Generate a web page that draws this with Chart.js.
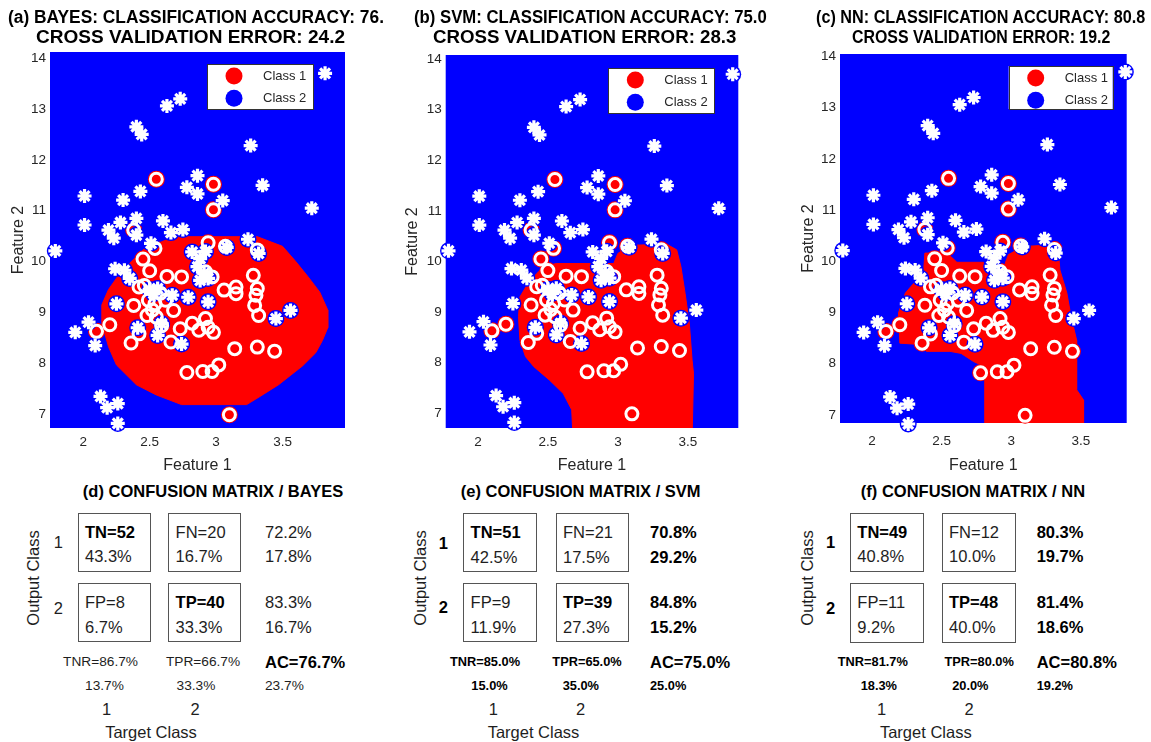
<!DOCTYPE html>
<html><head><meta charset="utf-8">
<script src="https://cdn.jsdelivr.net/npm/chart.js@4.4.0/dist/chart.umd.min.js"></script>
<style>
html,body{margin:0;padding:0;background:#fff;}
body{width:1151px;height:742px;position:relative;overflow:hidden;font-family:"Liberation Sans",Arial,Helvetica,sans-serif;color:#1e1e1e;}
.cv{position:absolute;top:0;}
.t{position:absolute;white-space:nowrap;line-height:1;}
.box{position:absolute;border:1px solid #555;box-sizing:border-box;}
</style></head><body>
<canvas id="ca" class="cv" style="left:0px" width="390" height="480"></canvas>
<canvas id="cb" class="cv" style="left:390px" width="380" height="480"></canvas>
<canvas id="cc" class="cv" style="left:770px" width="381" height="480"></canvas>
<script>
// ---------- data ----------
const legendLabels = ['Class 1', 'Class 2'];
const xTicks = [2, 2.5, 3, 3.5];
const yTicks = [7, 8, 9, 10, 11, 12, 13, 14];

const class1Points = [
 [2.55,11.62],[2.98,11.52],[2.98,11.02],[2.38,10.62],[2.54,10.26],[2.94,10.37],[3.07,10.30],[3.31,10.23],
 [2.45,10.05],[2.50,9.82],[2.63,9.71],[2.74,9.70],[2.42,9.50],[2.46,9.53],[2.38,9.14],[2.49,9.24],
 [2.54,9.17],[2.62,9.24],[2.68,9.04],[2.48,8.94],[2.55,8.91],[2.59,8.74],[2.73,8.68],[2.82,8.79],
 [2.87,8.65],[2.92,8.88],[2.94,8.71],[2.98,8.61],[2.66,8.42],[2.36,8.40],[2.42,8.58],[2.20,8.76],
 [2.10,8.63],[2.92,9.80],[2.97,9.70],[3.06,9.44],[3.15,9.50],[3.15,9.37],[3.28,9.73],[3.31,9.47],
 [3.30,9.34],[3.29,9.14],[3.32,8.94],[3.14,8.29],[3.31,8.32],[3.44,8.24],[2.78,7.82],[2.90,7.84],
 [2.97,7.84],[3.02,7.97],[3.10,6.99],[2.52,9.05],[2.58,9.38]
];
const class2Points = [
 [3.82,13.70],[2.73,13.20],[2.63,13.06],[2.40,12.65],[2.44,12.50],[3.26,12.28],[2.86,11.69],[2.78,11.46],
 [2.86,11.33],[3.35,11.50],[2.01,11.29],[2.43,11.38],[2.30,11.21],[3.05,11.20],[3.72,11.05],[2.01,10.72],
 [2.28,10.77],[2.40,10.85],[2.60,10.80],[2.19,10.62],[2.23,10.46],[2.66,10.57],[2.75,10.63],[2.40,10.52],
 [2.51,10.36],[2.82,10.19],[3.24,10.44],[3.08,10.28],[3.32,10.16],[1.79,10.21],[2.88,10.06],[2.92,10.20],
 [2.86,9.90],[2.91,9.77],[2.94,9.67],[2.88,9.63],[2.24,9.86],[2.31,9.83],[2.35,9.67],[2.56,9.47],
 [2.53,9.37],[2.50,9.45],[2.67,9.34],[2.79,9.30],[2.94,9.21],[2.25,9.17],[3.56,9.04],[3.45,8.88],
 [2.04,8.81],[1.94,8.61],[2.09,8.35],[2.41,8.70],[2.56,8.55],[2.59,8.78],[2.74,8.38],[2.13,7.35],
 [2.18,7.13],[2.26,7.21],[2.26,6.82]
];

// decision regions (class 1 area)
const bayesRegion = [[2.69,10.49],[3.31,10.49],[3.50,10.30],[3.60,10.0],[3.69,9.71],[3.78,9.40],[3.84,9.05],[3.84,8.70],
 [3.80,8.45],[3.75,8.21],[3.65,7.95],[3.47,7.58],[3.33,7.35],[3.23,7.19],[2.74,7.19],[2.55,7.38],[2.40,7.58],
 [2.25,7.97],[2.19,8.33],[2.14,8.80],[2.14,9.15],[2.19,9.45],[2.26,9.71],[2.35,9.97],[2.45,10.23],[2.59,10.39],[2.69,10.49]];
const svmRegion = [[2.56,9.96],[2.97,9.96],[3.00,10.16],[3.09,10.32],[3.35,10.34],[3.42,10.23],[3.45,9.90],[3.48,9.37],
 [3.51,8.78],[3.53,8.05],[3.54,7.79],[3.53,6.5],[2.68,6.5],[2.67,7.07],[2.61,7.39],[2.51,7.66],[2.40,7.92],[2.34,8.12],
 [2.30,8.45],[2.29,8.91],[2.30,9.30],[2.35,9.53],[2.42,9.76],[2.47,9.90],[2.56,9.96]];
const nnRegion = [[2.38,10.16],[2.54,10.16],[2.61,9.98],[2.80,9.98],[2.85,9.83],[2.94,9.83],[2.98,10.13],[3.09,10.29],
 [3.30,10.32],[3.34,10.16],[3.35,9.83],[3.40,9.38],[3.43,8.92],[3.47,8.46],[3.47,7.49],[3.52,7.29],[3.52,6.6],
 [2.81,6.6],[2.81,7.94],[2.73,8.04],[2.64,8.20],[2.56,8.24],[2.39,8.24],[2.37,8.37],[2.20,8.40],[2.19,8.99],
 [2.24,9.38],[2.30,9.57],[2.37,9.77],[2.38,10.16]];

// confusion matrices
const bayesCounts = [52, 20, 8, 40];
const bayesCellPct = [43.3, 16.7, 6.7, 33.3];
const bayesRowPct = [72.2, 17.8, 83.3, 16.7];
const bayesColPct = [86.7, 13.7, 66.7, 33.3];
const bayesAcc = [76.7, 23.7];
const svmCounts = [51, 21, 9, 39];
const svmCellPct = [42.5, 17.5, 11.9, 27.3];
const svmRowPct = [70.8, 29.2, 84.8, 15.2];
const svmColPct = [85.0, 15.0, 65.0, 35.0];
const svmAcc = [75.0, 25.0];
const nnCounts = [49, 12, 11, 48];
const nnCellPct = [40.8, 10.0, 9.2, 40.0];
const nnRowPct = [80.3, 19.7, 81.4, 18.6];
const nnColPct = [81.7, 18.3, 80.0, 20.0];
const nnAcc = [80.8, 19.2];

// ---------- drawing ----------
const RED = '#ff0000', BLUE = '#0000ff', AX = '#262626';
const FONT = '"Liberation Sans", Arial, Helvetica, sans-serif';

const bgPlugin = {
  id: 'bgFill',
  beforeDatasetsDraw(chart, args, o) {
    const {ctx, chartArea: a} = chart;
    ctx.save(); ctx.fillStyle = o.color;
    ctx.fillRect(a.left, a.top, a.right - a.left, a.bottom - a.top);
    ctx.restore();
  }
};
const boxLegend = {
  id: 'boxLegend',
  afterDraw(chart, args, o) {
    const {ctx, chartArea: a} = chart;
    const x = a.right - o.right - o.w, y = a.top + o.top;
    ctx.save();
    ctx.fillStyle = '#fff'; ctx.fillRect(x, y, o.w, o.h);
    ctx.strokeStyle = '#333'; ctx.lineWidth = 1; ctx.strokeRect(Math.round(x) + .5, Math.round(y) + .5, o.w, o.h);
    o.items.forEach((it, i) => {
      const cy = y + 12 + i * 22.3;
      ctx.beginPath(); ctx.arc(x + 27, cy, 8.5, 0, Math.PI * 2); ctx.fillStyle = it.color; ctx.fill();
      ctx.fillStyle = AX; ctx.font = '13px ' + FONT; ctx.textBaseline = 'middle';
      ctx.fillText(it.text, x + 56, cy);
    });
    ctx.restore();
  }
};

const toXY = arr => arr.map(p => ({x: p[0], y: p[1]}));

function makeChart(id, region, c) {
  new Chart(document.getElementById(id), {
    type: 'scatter',
    data: { datasets: [
      {type: 'line', label: 'region', data: toXY(region), fill: 'shape', tension: 0, backgroundColor: RED,
       borderColor: RED, borderWidth: 1, pointRadius: 0, order: 6},
      {label: legendLabels[1], data: toXY(class2Points), pointStyle: 'circle', pointRadius: 8.5,
       pointBackgroundColor: BLUE, pointBorderWidth: 0, clip: false, order: 4},
      {label: legendLabels[0], data: toXY(class1Points), pointStyle: 'circle', pointRadius: 8.5,
       pointBackgroundColor: RED, pointBorderWidth: 0, clip: false, order: 5},
      {label: 'ring', data: toXY(class1Points), pointStyle: 'circle', pointRadius: 6,
       pointBackgroundColor: 'rgba(0,0,0,0)', pointBorderColor: '#fff', pointBorderWidth: 3, clip: false, order: 3},
      {label: 'star', data: toXY(class2Points), pointStyle: 'star', pointRadius: 7,
       pointBorderColor: '#fff', pointBackgroundColor: '#fff', pointBorderWidth: 3.2, clip: false, order: 2}
    ]},
    options: {
      responsive: false, animation: false, events: [],
      layout: {padding: {top: c.top, right: c.right, left: 0, bottom: 0}},
      plugins: {
        legend: {display: false}, tooltip: {enabled: false},
        bgFill: {color: BLUE},
        boxLegend: {right: c.lr, top: c.lt, w: c.lw, h: c.lh,
          items: [{text: legendLabels[0], color: RED}, {text: legendLabels[1], color: BLUE}]}
      },
      scales: {
        x: {type: 'linear', min: c.xmin, max: c.xmax,
          afterFit(s) { s.height = c.xh; },
          afterBuildTicks(s) { s.ticks = xTicks.map(v => ({value: v})); },
          grid: {display: false, drawTicks: false}, border: {display: false},
          ticks: {padding: c.xpad, color: AX, font: {size: 13.5, family: FONT}, callback: v => String(v), autoSkip: false, maxRotation: 0},
          title: {display: true, text: 'Feature 1', color: AX, font: {size: 16, family: FONT}, padding: {top: 0, bottom: 5}}
        },
        y: {type: 'linear', min: c.ymin, max: c.ymax,
          afterFit(s) { s.width = c.yw; },
          afterBuildTicks(s) { s.ticks = yTicks.map(v => ({value: v})); },
          grid: {display: false, drawTicks: false}, border: {display: false},
          ticks: {padding: 4, color: AX, font: {size: 13.5, family: FONT}, callback: v => String(v), autoSkip: false},
          title: {display: true, text: 'Feature 2', color: AX, font: {size: 16, family: FONT}, padding: {top: c.ytp, bottom: 0}}
        }
      }
    },
    plugins: [bgPlugin, boxLegend]
  });
}

makeChart('ca', bayesRegion, {top: 52, right: 45, yw: 50, xh: 52, xpad: 6, ytp: 9,
  xmin: 1.75, xmax: 3.97, ymin: 6.73, ymax: 14.12, lr: 32, lt: 12, lw: 106, lh: 45});
makeChart('cb', svmRegion, {top: 55, right: 31.7, yw: 55.7, xh: 52, xpad: 6, ytp: 13.4,
  xmin: 1.77, xmax: 3.86, ymin: 6.71, ymax: 14.08, lr: 24, lt: 13, lw: 106, lh: 45});
makeChart('cc', nnRegion, {top: 54, right: 24.3, yw: 70, xh: 57, xpad: 10, ytp: 29.4,
  xmin: 1.77, xmax: 3.83, ymin: 6.84, ymax: 14.05, lr: 14, lt: 12, lw: 104, lh: 43});

// ---------- text ----------
function txt(x, y, s, o = {}) {
  const d = document.createElement('div');
  d.className = 't'; d.textContent = s;
  d.style.left = x + 'px'; d.style.top = y + 'px';
  d.style.fontSize = (o.size || 16.5) + 'px';
  d.style.fontWeight = o.bold ? 'bold' : 'normal';
  d.style.color = o.bold ? '#000' : '#1e1e1e';
  const tx = o.center ? '-50%' : '0';
  d.style.transform = `translate(${tx},-50%)` + (o.rot ? ' rotate(-90deg)' : '');
  document.body.appendChild(d);
  return d;
}
// text stretched to span [x0, x1]
function fitTxt(x0, x1, y, s, size) {
  const d = txt(x0, y, s, {bold: true, size: size});
  d.style.transformOrigin = '0 50%';
  const w = d.getBoundingClientRect().width;
  d.style.transform = `translate(0,-50%) scaleX(${(x1 - x0) / w})`;
}
function box(x, y, w, h) {
  const d = document.createElement('div'); d.className = 'box';
  d.style.left = x + 'px'; d.style.top = y + 'px'; d.style.width = w + 'px'; d.style.height = h + 'px';
  document.body.appendChild(d);
}

// plot titles
const titles = [
  ['(a) BAYES: CLASSIFICATION ACCURACY: 76.', 'CROSS VALIDATION ERROR: 24.2', [8, 384], [36, 345]],
  ['(b) SVM: CLASSIFICATION ACCURACY: 75.0', 'CROSS VALIDATION ERROR: 28.3', [414, 766.7], [433.3, 736.7]],
  ['(c) NN: CLASSIFICATION ACCURACY: 80.8', 'CROSS VALIDATION ERROR: 19.2', [815.7, 1145], [851.7, 1110]]
];
titles.forEach(t => {
  fitTxt(t[2][0], t[2][1], 18, t[0], 17.5);
  fitTxt(t[3][0], t[3][1], 37.5, t[1], 17.5);
});

const f1 = v => v.toFixed(1) + '%';
function confusion(title, counts, cellPct, rowPct, colPct, acc, L) {
  txt(L.tx, 491, title, {bold: true, center: true});
  const names = ['TN', 'FN', 'FP', 'TP'];
  for (let r = 0; r < 2; r++) {
    for (let c = 0; c < 2; c++) {
      const i = r * 2 + c, bx = L.bx[c], by = L.by[r];
      box(bx, by, L.bw, L.bh);
      txt(bx + 7.3, by + 19, names[i] + '=' + counts[i], {bold: i === 0 || i === 3});
      txt(bx + 7.3, by + 43.3, f1(cellPct[i]));
    }
    txt(L.rc, L.by[r] + 19, f1(rowPct[r * 2]), {bold: L.sb});
    txt(L.rc, L.by[r] + 43.3, f1(rowPct[r * 2 + 1]), {bold: L.sb});
  }
  txt(L.rl, L.rly[0], '1', {bold: L.sb, center: true});
  txt(L.rl, L.rly[1], '2', {bold: L.sb, center: true});
  txt(L.oc, 578, 'Output Class', {center: true, rot: true});
  const sm = L.sb ? 12.8 : 13.7;
  txt(L.b1[0], 661.7, 'TNR=' + f1(colPct[0]), {size: sm, bold: L.sb, center: true});
  txt(L.b1[1], 661.7, 'TPR=' + f1(colPct[2]), {size: sm, bold: L.sb, center: true});
  txt(L.rc, 661.7, 'AC=' + f1(acc[0]), {bold: true, size: 16.5});
  txt(L.b2[0], 686, f1(colPct[1]), {size: sm, bold: L.sb, center: true});
  txt(L.b2[1], 686, f1(colPct[3]), {size: sm, bold: L.sb, center: true});
  txt(L.rc, 686, f1(acc[1]), {size: sm, bold: L.sb});
  txt(L.cn[0], 709, '1', {center: true});
  txt(L.cn[1], 709, '2', {center: true});
  txt(L.tc, 731.7, 'Target Class', {center: true});
}
confusion('(d) CONFUSION MATRIX / BAYES', bayesCounts, bayesCellPct, bayesRowPct, bayesColPct, bayesAcc,
  {tx: 213, bx: [77.7, 168.3], bw: 73, by: [512.7, 583.3], bh: 59, rc: 265, rl: 58.3, rly: [541.7, 608.3], oc: 33,
   b1: [100.5, 203], b2: [104.5, 196], cn: [106.7, 195], tc: 151, sb: false});
confusion('(e) CONFUSION MATRIX / SVM', svmCounts, svmCellPct, svmRowPct, svmColPct, svmAcc,
  {tx: 580.7, bx: [463.3, 555.7], bw: 73.4, by: [513.3, 583.3], bh: 59, rc: 650, rl: 443.3, rly: [543, 606.7], oc: 420,
   b1: [485, 587], b2: [489.5, 580.8], cn: [493.3, 580.7], tc: 533.5, sb: true});
confusion('(f) CONFUSION MATRIX / NN', nnCounts, nnCellPct, nnRowPct, nnColPct, nnAcc,
  {tx: 973, bx: [850, 941.7], bw: 74, by: [512.7, 583.3], bh: 59.6, rc: 1036.7, rl: 830.7, rly: [541.7, 607.7], oc: 806.7,
   b1: [872.8, 979.2], b2: [878.8, 970.3], cn: [881.7, 969], tc: 925.8, sb: true});
</script>
</body></html>
